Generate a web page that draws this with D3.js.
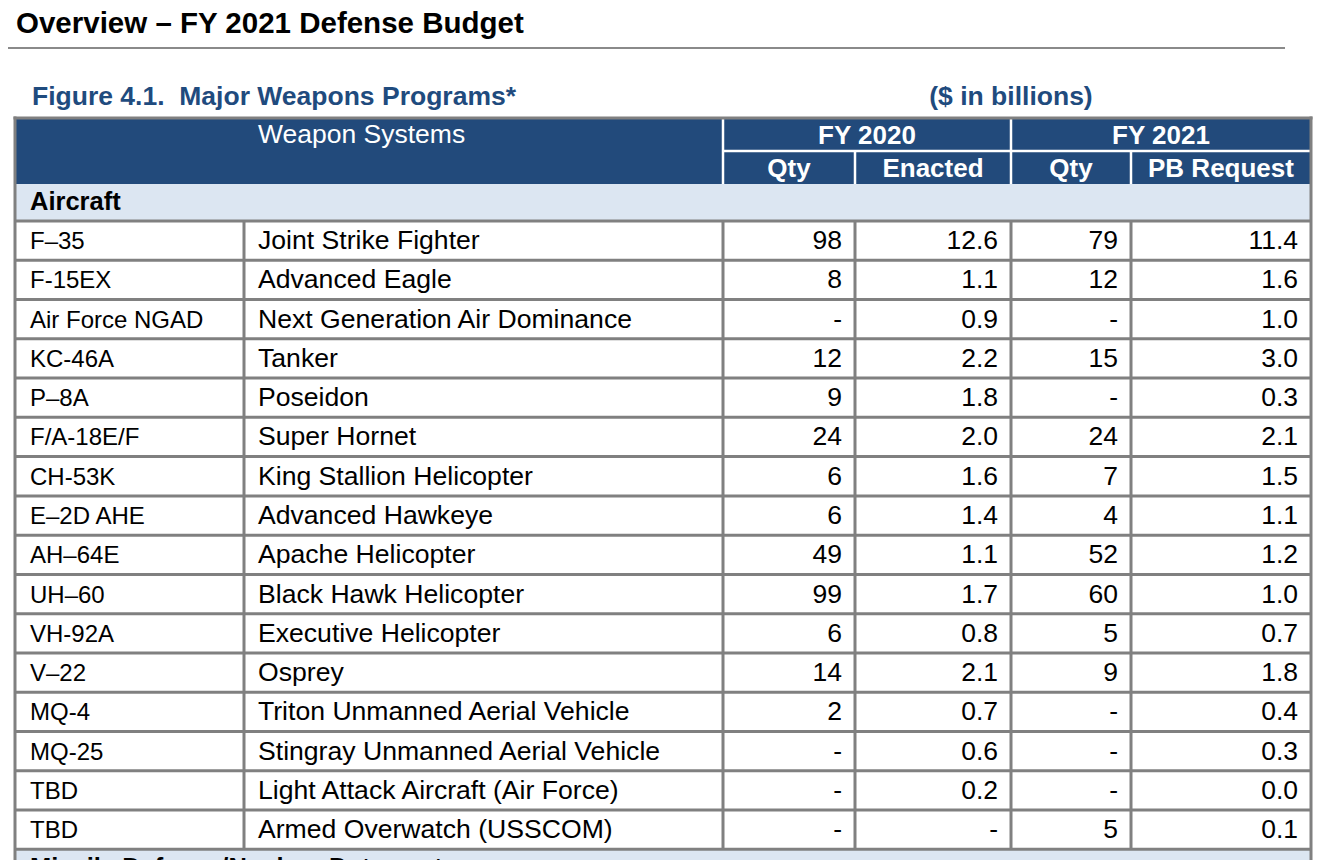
<!DOCTYPE html>
<html>
<head>
<meta charset="utf-8">
<script src="https://cdn.jsdelivr.net/npm/d3@7"></script>
<style>
  html, body { margin: 0; padding: 0; background: #fff; }
  svg { display: block; font-family: "Liberation Sans", Arial, sans-serif; }
</style>
</head>
<body>
<svg id="chart" width="1324" height="860"></svg>
<script>
// ---- Data ----
const codes = ["F\u201335", "F-15EX", "Air Force NGAD", "KC-46A", "P\u20138A", "F/A-18E/F", "CH-53K", "E\u20132D AHE", "AH\u201364E", "UH\u201360", "VH-92A", "V\u201322", "MQ-4", "MQ-25", "TBD", "TBD"];
const systems = ["Joint Strike Fighter", "Advanced Eagle", "Next Generation Air Dominance", "Tanker", "Poseidon", "Super Hornet", "King Stallion Helicopter", "Advanced Hawkeye", "Apache Helicopter", "Black Hawk Helicopter", "Executive Helicopter", "Osprey", "Triton Unmanned Aerial Vehicle", "Stingray Unmanned Aerial Vehicle", "Light Attack Aircraft (Air Force)", "Armed Overwatch (USSCOM)"];
const qty2020 = ["98", "8", "-", "12", "9", "24", "6", "6", "49", "99", "6", "14", "2", "-", "-", "-"];
const enacted2020 = ["12.6", "1.1", "0.9", "2.2", "1.8", "2.0", "1.6", "1.4", "1.1", "1.7", "0.8", "2.1", "0.7", "0.6", "0.2", "-"];
const qty2021 = ["79", "12", "-", "15", "-", "24", "7", "4", "52", "60", "5", "9", "-", "-", "-", "5"];
const pb2021 = ["11.4", "1.6", "1.0", "3.0", "0.3", "2.1", "1.5", "1.1", "1.2", "1.0", "0.7", "1.8", "0.4", "0.3", "0.0", "0.1"];
const groupHeaders = ["FY 2020", "FY 2021"];
const subHeaders = ["Qty", "Enacted", "Qty", "PB Request"];
const sections = ["Aircraft", "Missile Defense/Nuclear Deterrent"];

// ---- Layout ----
const svg = d3.select("#chart");
const DARK = "#224a7b", LIGHT = "#dce6f2", GRID = "#808080", TITLE_BLUE = "#1f4b7e";
const L = 15, R = 1311;
const colEdges = [L, 244, 723, 855, 1011, 1131, R];
const headTop = 118, headMid = 151, headBot = 184, secBot = 221;

const y = d3.scaleBand().domain(d3.range(codes.length)).range([secBot, secBot + 39.27 * codes.length]).padding(0);

// Title
svg.append("text").attr("x", 16).attr("y", 33).attr("font-size", 29.5).attr("font-weight", "bold")
  .attr("fill", "#000").text("Overview \u2013 FY 2021 Defense Budget");
svg.append("line").attr("x1", 8).attr("x2", 1285).attr("y1", 48).attr("y2", 48)
  .attr("stroke", "#8a8a8a").attr("stroke-width", 2);

svg.append("text").attr("x", 32).attr("y", 105).attr("font-size", 26.5).attr("font-weight", "bold")
  .attr("fill", TITLE_BLUE).attr("xml:space", "preserve").text("Figure 4.1.  Major Weapons Programs*");
svg.append("text").attr("x", 1011).attr("y", 105).attr("font-size", 26.5).attr("font-weight", "bold")
  .attr("text-anchor", "middle").attr("fill", TITLE_BLUE).text("($ in billions)");

// Header background
svg.append("rect").attr("x", L).attr("y", headTop).attr("width", R - L).attr("height", headBot - headTop).attr("fill", DARK);
// Section background (Aircraft)
svg.append("rect").attr("x", L).attr("y", headBot).attr("width", R - L).attr("height", secBot - headBot).attr("fill", LIGHT);
// Next section (cut off)
const lastBottom = y(codes.length - 1) + y.bandwidth();
svg.append("rect").attr("x", L).attr("y", lastBottom).attr("width", R - L).attr("height", 860 - lastBottom).attr("fill", LIGHT);

// Header white dividers
const hdr = svg.append("g").attr("stroke", "#fff").attr("stroke-width", 2.5);
hdr.append("line").attr("x1", colEdges[2]).attr("x2", colEdges[2]).attr("y1", headTop).attr("y2", headBot);
hdr.append("line").attr("x1", colEdges[4]).attr("x2", colEdges[4]).attr("y1", headTop).attr("y2", headBot);
hdr.append("line").attr("x1", colEdges[3]).attr("x2", colEdges[3]).attr("y1", headMid).attr("y2", headBot);
hdr.append("line").attr("x1", colEdges[5]).attr("x2", colEdges[5]).attr("y1", headMid).attr("y2", headBot);
hdr.append("line").attr("x1", colEdges[2]).attr("x2", R).attr("y1", headMid).attr("y2", headMid);

// Header text
svg.append("text").attr("x", 258).attr("y", 143).attr("font-size", 26.5).attr("fill", "#fff").text("Weapon Systems");
svg.selectAll("text.grp").data(groupHeaders).join("text").attr("class", "grp")
  .attr("x", (d, i) => (colEdges[2 + 2 * i] + colEdges[4 + 2 * i]) / 2)
  .attr("y", 144).attr("font-size", 26).attr("font-weight", "bold").attr("text-anchor", "middle")
  .attr("fill", "#fff").text(d => d);
svg.selectAll("text.sub").data(subHeaders).join("text").attr("class", "sub")
  .attr("x", (d, i) => (colEdges[2 + i] + colEdges[3 + i]) / 2)
  .attr("y", 177).attr("font-size", 26).attr("font-weight", "bold").attr("text-anchor", "middle")
  .attr("fill", "#fff").text(d => d);

// Section labels
svg.append("text").attr("x", 30).attr("y", 210).attr("font-size", 25.5).attr("font-weight", "bold").attr("fill", "#000").text(sections[0]);
svg.append("text").attr("x", 30).attr("y", lastBottom + 27).attr("font-size", 25.5).attr("font-weight", "bold").attr("fill", "#000").text(sections[1]);

// Data rows
const rows = svg.append("g");
const idx = d3.range(codes.length);
const base = i => y(i) + y.bandwidth() / 2 + 8.5;
rows.selectAll("text.code").data(idx).join("text").attr("class", "code")
  .attr("x", 30).attr("y", base).attr("font-size", 24).attr("fill", "#000").text(i => codes[i]);
rows.selectAll("text.sys").data(idx).join("text").attr("class", "sys")
  .attr("x", 258).attr("y", base).attr("font-size", 26.6).attr("fill", "#000").text(i => systems[i]);
const numCols = [qty2020, enacted2020, qty2021, pb2021];
numCols.forEach((arr, c) => {
  rows.selectAll("text.n" + c).data(idx).join("text").attr("class", "n" + c)
    .attr("x", colEdges[3 + c] - 13).attr("y", base).attr("font-size", 26.5).attr("text-anchor", "end")
    .attr("fill", "#000").text(i => arr[i]);
});

// Grid lines
const grid = svg.append("g").attr("stroke", GRID).attr("stroke-width", 3).attr("fill", "none");
idx.forEach(i => {
  grid.append("line").attr("x1", L).attr("x2", R).attr("y1", y(i)).attr("y2", y(i));
});
grid.append("line").attr("x1", L).attr("x2", R).attr("y1", lastBottom).attr("y2", lastBottom);
colEdges.slice(1, -1).forEach(x => {
  grid.append("line").attr("x1", x).attr("x2", x).attr("y1", secBot).attr("y2", lastBottom);
});
// outer border
grid.append("line").attr("x1", L).attr("x2", L).attr("y1", headTop - 1.5).attr("y2", 860);
grid.append("line").attr("x1", R).attr("x2", R).attr("y1", headTop - 1.5).attr("y2", 860);
grid.append("line").attr("x1", L - 1.5).attr("x2", R + 1.5).attr("y1", headTop).attr("y2", headTop);
</script>
</body>
</html>
